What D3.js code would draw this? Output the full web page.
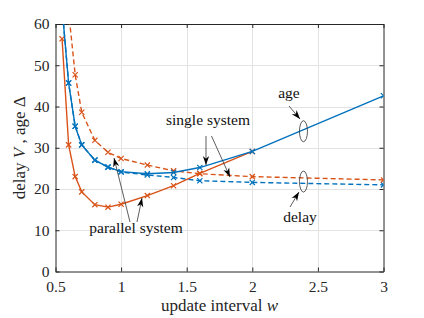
<!DOCTYPE html>
<html>
<head>
<meta charset="utf-8">
<script src="https://cdn.jsdelivr.net/npm/d3@7"></script>
<style>
  body { margin: 0; background: #fff; }
</style>
</head>
<body>
<svg id="chart" width="424" height="318"></svg>
<script>
// data
var wSingle   = [0.55, 0.6, 0.65, 0.7, 0.8, 0.9, 1.0, 1.2, 1.4, 1.6, 2.0, 3.0];
var ageSingle = [64.0, 45.7, 35.2, 30.7, 27.0, 25.3, 24.2, 23.7, 24.0, 25.2, 29.1, 42.6];
var delaySingle = [64.0, 45.7, 35.2, 30.7, 27.0, 25.3, 24.1, 23.4, 22.8, 22.0, 21.6, 21.0];

var wParAge   = [0.55, 0.6, 0.65, 0.7, 0.8, 0.9, 1.0, 1.2, 1.4, 1.6, 2.0];
var agePar    = [56.4, 30.7, 23.0, 19.3, 16.2, 15.6, 16.3, 18.4, 20.8, 23.8, 29.1];
var wParDelay = [0.6, 0.65, 0.7, 0.8, 0.9, 1.0, 1.2, 1.4, 1.6, 2.0, 3.0];
var delayPar  = [63.0, 47.7, 38.6, 31.8, 28.9, 27.4, 25.8, 24.4, 23.7, 23.0, 22.2];

var xTicks = [0.5, 1, 1.5, 2, 2.5, 3];
var yTicks = [0, 10, 20, 30, 40, 50, 60];

var blue = "#0072BD", orange = "#D95319";
var serif = "'Liberation Serif', 'Times New Roman', 'DejaVu Serif', serif";

var margin = {left: 55.5, right: 40.5, top: 24, bottom: 46.5};
var width = 424, height = 318;
var svg = d3.select("#chart");

var x = d3.scaleLinear().domain([0.5, 3]).range([margin.left, width - margin.right]);
var y = d3.scaleLinear().domain([0, 60]).range([height - margin.bottom, margin.top]);

svg.append("clipPath").attr("id", "clip")
  .append("rect")
  .attr("x", x(0.5)).attr("y", y(60))
  .attr("width", x(3) - x(0.5)).attr("height", y(0) - y(60));

// grid
var grid = svg.append("g").attr("stroke", "#e3e3e3").attr("stroke-width", 1);
grid.selectAll(".gx").data(xTicks.slice(1, -1)).enter().append("line")
  .attr("x1", function (d) { return Math.round(x(d)) + 0.5; })
  .attr("x2", function (d) { return Math.round(x(d)) + 0.5; })
  .attr("y1", y(0)).attr("y2", y(60));
grid.selectAll(".gy").data(yTicks.slice(1, -1)).enter().append("line")
  .attr("y1", function (d) { return Math.round(y(d)) + 0.5; })
  .attr("y2", function (d) { return Math.round(y(d)) + 0.5; })
  .attr("x1", x(0.5)).attr("x2", x(3));

// axes, MATLAB style: ticks inside, box on
function styleAxis(g) {
  g.attr("font-family", serif).attr("font-size", 15.5);
  g.select(".domain").attr("stroke", "#262626");
  g.selectAll(".tick line").attr("stroke", "#262626");
  g.selectAll("text").attr("fill", "#262626");
}
svg.append("g").attr("transform", "translate(0," + y(0) + ")")
  .call(d3.axisBottom(x).tickValues(xTicks).tickFormat(d3.format("")).tickSizeInner(-4).tickSizeOuter(0).tickPadding(9))
  .call(styleAxis);
svg.append("g").attr("transform", "translate(0," + y(60) + ")")
  .call(d3.axisTop(x).tickValues(xTicks).tickFormat("").tickSizeInner(-4).tickSizeOuter(0))
  .call(styleAxis);
svg.append("g").attr("transform", "translate(" + x(0.5) + ",0)")
  .call(d3.axisLeft(y).tickValues(yTicks).tickSizeInner(-4).tickSizeOuter(0).tickPadding(6))
  .call(styleAxis);
svg.append("g").attr("transform", "translate(" + x(3) + ",0)")
  .call(d3.axisRight(y).tickValues(yTicks).tickFormat("").tickSizeInner(-4).tickSizeOuter(0))
  .call(styleAxis);

// series
var series = [
  {w: wSingle, v: delaySingle, color: blue, dash: "5,3"},
  {w: wParDelay, v: delayPar, color: orange, dash: "5,3"},
  {w: wParAge, v: agePar, color: orange, dash: null},
  {w: wSingle, v: ageSingle, color: blue, dash: null}
];

var line = d3.line().x(function (d) { return x(d[0]); }).y(function (d) { return y(d[1]); });
var plot = svg.append("g").attr("clip-path", "url(#clip)");

series.forEach(function (s) {
  var pts = d3.zip(s.w, s.v);
  plot.append("path").datum(pts)
    .attr("d", line)
    .attr("fill", "none")
    .attr("stroke", s.color)
    .attr("stroke-width", 1.4)
    .attr("stroke-dasharray", s.dash);
  plot.selectAll(null).data(pts).enter().append("path")
    .attr("transform", function (d) { return "translate(" + x(d[0]) + "," + y(d[1]) + ")"; })
    .attr("d", "M-2.6,-2.6L2.6,2.6M-2.6,2.6L2.6,-2.6")
    .attr("stroke", s.color)
    .attr("stroke-width", 1.2);
});

// annotations
svg.append("defs").append("marker")
  .attr("id", "head").attr("viewBox", "0 0 10 10")
  .attr("refX", 10).attr("refY", 5)
  .attr("markerWidth", 9).attr("markerHeight", 9)
  .attr("markerUnits", "userSpaceOnUse")
  .attr("orient", "auto")
  .append("path").attr("d", "M0,1.5L10,5L0,8.5L3,5Z").attr("fill", "#000");

var arrows = [
  [130, 222, 114, 158],
  [137, 222, 142, 198],
  [206, 136, 206, 165],
  [211.5, 136, 230, 177],
  [289, 106, 300, 119],
  [290, 207, 299, 192]
];
svg.selectAll(".arr").data(arrows).enter().append("line")
  .attr("x1", function (d) { return d[0]; }).attr("y1", function (d) { return d[1]; })
  .attr("x2", function (d) { return d[2]; }).attr("y2", function (d) { return d[3]; })
  .attr("stroke", "#333").attr("stroke-width", 0.8)
  .attr("marker-end", "url(#head)");

var ellipses = [[2.39, 34.0], [2.39, 21.8]];
svg.selectAll(".ell").data(ellipses).enter().append("ellipse")
  .attr("cx", function (d) { return x(d[0]); })
  .attr("cy", function (d) { return y(d[1]); })
  .attr("rx", 4).attr("ry", 10.5)
  .attr("fill", "none").attr("stroke", "#333").attr("stroke-width", 0.8);

var labels = [
  ["single system", 208, 125],
  ["parallel system", 136, 233],
  ["age", 289, 98],
  ["delay", 300, 222]
];
svg.selectAll(".lab").data(labels).enter().append("text")
  .attr("x", function (d) { return d[1]; }).attr("y", function (d) { return d[2]; })
  .attr("text-anchor", "middle")
  .attr("font-family", serif)
  .attr("font-size", 15.5)
  .attr("fill", "#111")
  .text(function (d) { return d[0]; });

// axis titles
var xl = svg.append("text")
  .attr("x", (x(0.5) + x(3)) / 2).attr("y", 311)
  .attr("text-anchor", "middle")
  .attr("font-family", serif).attr("font-size", 17).attr("fill", "#262626");
xl.append("tspan").text("update interval ");
xl.append("tspan").attr("font-style", "italic").text("w");

var yl = svg.append("text")
  .attr("transform", "translate(25," + (y(0) + y(60)) / 2 + ") rotate(-90)")
  .attr("text-anchor", "middle")
  .attr("font-family", serif).attr("font-size", 17).attr("fill", "#262626");
yl.append("tspan").text("delay ");
yl.append("tspan").attr("font-style", "italic").text("V");
yl.append("tspan").text(" , age Δ");
</script>
</body>
</html>
